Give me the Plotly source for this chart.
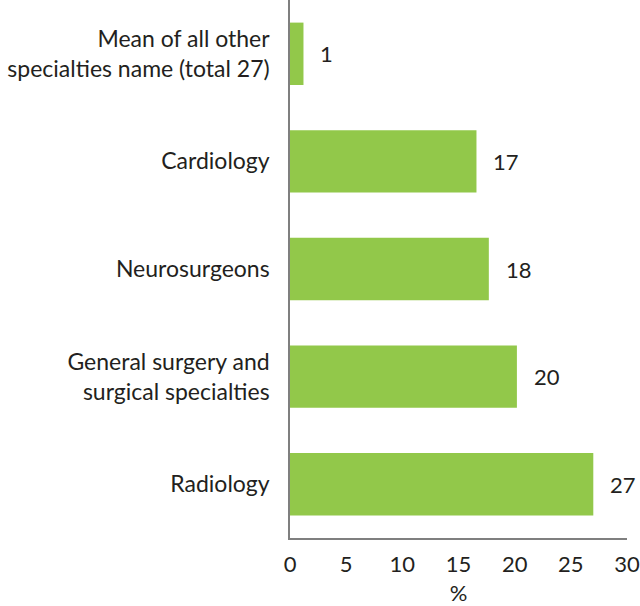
import plotly.graph_objects as go

categories = ["Radiology", "General surgery and<br>surgical specialties", "Neurosurgeons",
              "Cardiology", "Mean of all other<br>specialties name (total 27)"]
values = [27.0, 20.2, 17.7, 16.6, 1.2]
labels = ["27", "20", "18", "17", "1"]
x_ticks = [0, 5, 10, 15, 20, 25, 30]

FONT = "Lato"
TXT = "#231F20"

fig = go.Figure(go.Bar(
    x=values, y=categories, orientation="h",
    marker=dict(color="#92C84A", line=dict(width=0)),
    width=0.58,
))

for v, c, t in zip(values, categories, labels):
    fig.add_annotation(x=v, y=c, text=t, showarrow=False, xanchor="left",
                       xshift=15, font=dict(family=FONT, size=22, color=TXT))

fig.update_layout(
    width=640, height=606,
    margin=dict(l=290, r=13, t=0, b=68),
    paper_bgcolor="white", plot_bgcolor="white",
    showlegend=False,
    font=dict(family=FONT, size=22, color=TXT),
)
fig.update_xaxes(range=[0, 30], tickvals=x_ticks, showgrid=False, zeroline=False,
                 showline=True, linecolor="#7f7f7f", linewidth=1.5, automargin=False,
                 ticks="", ticklabelstandoff=6,
                 title=dict(text="%", font=dict(size=22), standoff=14),
                 tickfont=dict(size=22))
fig.update_yaxes(showgrid=False, showline=True, linecolor="#7f7f7f", linewidth=1.5,
                 ticks="", ticklabelstandoff=14, tickfont=dict(size=23),
                 automargin=False, range=[-0.5, 4.5])

fig.write_html("out.html", config={"displayModeBar": False},
               post_script="document.body.style.margin='0';")
